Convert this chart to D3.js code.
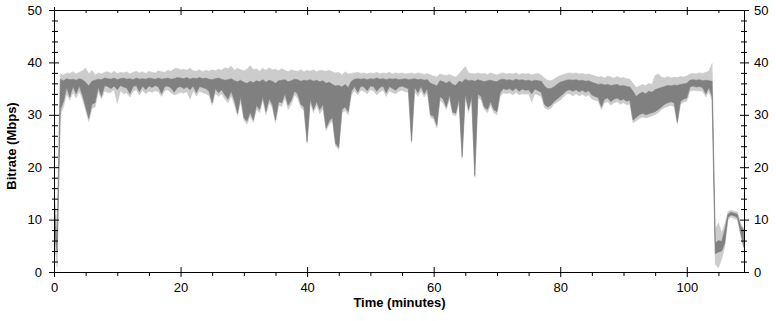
<!DOCTYPE html>
<html><head><meta charset="utf-8">
<script src="https://cdn.jsdelivr.net/npm/d3@7"></script>
<style>
body{margin:0;background:#fff}
svg{display:block}
text{font-family:"Liberation Sans",Arial,sans-serif;fill:#000}
</style>
</head><body>
<svg id="chart" width="776" height="321"></svg>
<script>
// ---- data, one sample every half minute, 0 .. 109 min ----
const sampleInterval = 0.5;
const darkHigh = [
13.0,6.0,36.8,36.5,36.9,36.7,36.8,36.6,36.9,36.7,
36.2,35.5,36.4,36.6,36.8,36.7,37.0,36.9,36.8,37.0,
36.7,36.9,37.0,36.8,36.9,36.7,37.0,36.8,36.9,36.8,
37.0,36.9,36.8,37.0,36.8,36.9,37.0,36.8,36.9,37.1,
37.0,36.9,37.1,36.8,37.0,36.9,37.1,36.9,37.0,36.8,
36.7,36.9,37.0,36.8,36.6,36.7,36.9,36.5,36.3,36.6,
36.2,36.0,36.4,36.1,36.5,36.3,36.7,36.2,36.6,36.4,
36.0,36.5,36.6,36.7,36.3,36.5,36.8,36.7,36.4,36.6,
36.5,36.7,36.4,36.6,36.3,36.5,36.0,36.2,35.8,35.5,
35.6,35.3,35.8,35.2,36.4,36.8,36.9,36.8,36.9,36.7,
36.9,36.8,37.0,36.8,36.9,36.7,36.9,36.8,36.9,36.7,
36.8,36.9,36.7,36.8,36.9,36.7,36.8,36.6,36.7,36.0,
35.8,35.5,36.5,36.3,36.0,36.4,35.8,35.6,36.4,36.2,
36.8,36.5,36.6,36.4,36.7,36.5,36.3,36.5,36.6,36.4,
36.3,36.7,36.8,36.6,36.7,36.5,36.8,36.6,36.7,36.5,
36.6,36.4,36.6,36.5,36.4,35.5,35.0,35.0,35.3,35.8,
36.2,36.4,36.6,36.7,36.6,36.7,36.5,36.6,36.4,36.5,
36.2,36.0,35.8,35.9,35.7,35.8,35.6,35.7,35.8,35.5,
35.6,35.4,35.3,34.5,33.5,34.0,34.3,34.0,34.5,34.3,
34.8,35.0,35.2,35.4,35.6,35.5,35.7,35.6,35.8,35.9,
36.0,36.6,36.7,36.6,36.7,36.5,36.6,36.5,36.4,5.5,
6.0,5.8,8.0,11.0,11.4,11.2,11.0,8.8,8.0
];
const darkLow = [
8.0,3.8,31.0,32.5,35.2,33.4,35.4,34.0,35.5,33.8,
31.5,29.3,32.0,32.3,35.3,33.5,35.6,35.4,35.0,35.5,
34.8,35.6,35.3,35.1,34.0,35.4,35.6,34.4,35.5,34.8,
35.5,35.2,35.6,35.3,34.0,35.4,35.5,35.1,34.3,35.2,
35.4,35.0,35.3,34.8,35.5,34.2,35.4,35.2,35.0,34.5,
32.3,35.0,34.2,34.8,33.8,33.0,34.5,32.8,30.3,33.5,
29.5,28.8,30.5,29.0,31.8,31.0,33.5,30.6,33.0,32.0,
29.0,32.5,32.3,34.0,31.8,32.8,34.5,34.0,32.0,31.5,
24.9,33.0,31.0,32.5,31.0,32.0,27.5,28.8,29.5,24.5,
23.8,31.0,31.5,30.6,34.5,35.4,34.3,35.5,35.3,34.6,
35.5,35.4,34.5,35.2,35.5,34.2,35.4,35.0,34.7,35.3,
35.5,35.2,35.0,25.0,35.3,34.2,35.4,34.0,35.0,30.0,
29.7,28.0,33.5,33.0,31.5,33.8,30.5,30.3,33.0,22.0,
34.0,31.0,33.5,18.4,34.0,33.5,31.5,31.0,32.5,31.0,
30.6,34.2,35.0,34.8,35.0,34.6,35.1,34.5,34.9,34.7,
34.8,34.0,34.9,34.6,34.3,32.0,31.5,31.8,32.5,33.0,
33.5,34.0,34.6,34.8,34.5,34.8,34.4,34.7,34.3,34.6,
33.8,33.5,33.3,31.5,33.0,33.2,32.5,33.0,33.2,32.8,
33.0,32.6,32.8,29.0,29.5,30.0,30.3,30.0,30.2,30.4,
30.6,31.0,31.5,32.0,32.3,32.5,32.3,28.6,32.6,33.0,
33.2,35.3,35.5,35.3,35.4,35.2,34.0,35.2,33.5,3.5,
3.8,4.0,5.5,10.4,10.9,10.7,10.4,7.6,4.8
];
const lightHigh = [
15.0,9.0,37.8,37.6,38.0,37.9,38.2,37.8,38.1,38.4,
38.9,37.8,38.5,37.6,38.0,37.8,38.1,38.2,37.9,38.3,
37.9,38.1,38.0,38.2,37.8,38.1,38.3,38.0,38.2,37.9,
38.3,38.1,38.0,38.4,38.2,38.1,38.5,38.3,38.8,38.9,
38.6,38.7,38.5,38.9,38.4,38.3,38.6,38.2,38.5,38.3,
38.6,38.4,38.7,38.5,39.0,38.8,39.3,38.5,38.9,38.6,
38.4,38.7,39.4,38.6,38.8,38.3,38.9,38.5,39.0,38.6,
38.7,38.4,38.8,38.5,38.2,38.6,38.4,38.3,38.6,38.2,
38.5,38.3,38.6,38.2,38.5,38.4,38.3,38.5,38.2,38.0,
38.1,37.6,38.2,37.8,37.9,38.0,38.1,37.9,38.0,37.8,
38.0,37.9,38.1,37.8,38.0,37.9,38.1,37.8,38.0,37.9,
38.0,37.8,37.9,38.0,37.8,38.0,37.9,37.7,37.9,37.6,
37.4,37.2,37.8,37.6,37.5,37.7,37.4,37.2,37.8,38.5,
39.2,38.0,37.9,37.8,38.0,37.8,37.9,37.7,38.0,37.8,
37.6,37.9,38.0,37.8,37.9,37.8,38.0,37.7,37.9,37.8,
37.9,37.6,37.8,37.9,37.6,37.0,36.6,36.5,36.8,37.2,
37.5,37.7,37.9,38.0,37.9,38.0,37.8,37.9,37.7,37.8,
37.6,37.4,37.2,37.3,37.0,37.4,37.2,37.0,37.3,37.0,
37.1,36.9,36.8,36.0,35.2,35.5,35.8,35.6,36.0,35.8,
37.5,37.8,37.2,37.0,37.3,37.0,37.2,37.1,37.3,37.2,
37.4,37.8,37.9,37.8,38.0,37.9,38.1,38.3,39.8,8.0,
9.4,7.5,9.0,11.5,11.8,11.6,11.5,9.2,8.4
];
const lightLow = [
6.0,1.0,30.0,31.5,34.0,32.8,34.3,33.2,34.5,33.0,
30.8,28.7,31.2,31.5,34.4,33.0,34.6,34.2,34.3,34.8,
32.2,34.6,34.0,34.2,33.4,34.5,34.8,33.8,34.7,34.0,
34.5,34.3,34.6,34.4,33.5,34.6,34.8,34.2,33.8,34.0,
34.3,34.1,34.4,33.0,34.6,33.6,34.5,34.2,34.0,33.7,
31.8,34.1,33.5,34.0,33.0,32.3,33.6,32.0,29.8,32.6,
29.0,28.2,29.8,28.5,31.0,30.4,32.8,30.0,32.3,31.4,
28.5,31.8,31.6,33.2,31.0,32.0,33.8,33.2,31.4,30.8,
24.5,32.3,30.4,31.8,30.2,31.2,27.0,28.2,28.8,24.0,
23.4,30.4,30.8,30.0,33.8,34.6,33.8,34.7,34.5,34.0,
34.8,34.6,33.8,34.4,34.7,33.5,34.6,34.2,34.0,34.5,
34.7,34.4,34.3,24.6,34.4,33.5,34.6,33.4,34.2,29.5,
29.2,27.5,32.8,32.2,31.0,33.0,30.0,29.8,32.3,21.6,
33.4,30.4,32.8,18.0,33.3,32.8,31.0,30.4,31.8,30.4,
30.0,33.5,34.2,34.0,34.2,33.8,34.3,33.8,34.0,33.9,
34.0,32.5,34.0,33.8,33.5,31.4,31.0,31.2,32.0,32.4,
32.8,33.4,34.0,34.0,33.6,34.0,33.6,33.9,33.5,33.8,
33.0,32.8,32.6,31.0,32.3,32.5,31.8,32.3,32.5,32.0,
32.3,31.9,32.0,28.5,28.8,29.3,29.6,29.4,29.6,29.8,
30.0,30.4,31.0,31.4,31.6,31.8,31.6,28.2,32.0,32.4,
32.6,34.5,34.7,34.6,34.6,34.5,33.4,34.4,32.8,1.5,
0.8,2.5,4.8,10.0,10.5,10.2,10.0,7.0,4.5
];
const xMajorTicks = [0, 20, 40, 60, 80, 100];
const xMinorTicks = [5, 10, 15, 25, 30, 35, 45, 50, 55, 65, 70, 75, 85, 90, 95, 105];
const yMajorTicks = [0, 10, 20, 30, 40, 50];
const yMinorTicks = [2, 4, 6, 8, 12, 14, 16, 18, 22, 24, 26, 28, 32, 34, 36, 38, 42, 44, 46, 48];
const xDomain = [0, 109.2];
const yDomain = [0, 50];
const xTitle = "Time (minutes)";
const yTitle = "Bitrate (Mbps)";

// ---- layout ----
const L = 54, R = 745, T = 10, B = 272;
const svg = d3.select("#chart");
const x = d3.scaleLinear().domain(xDomain).range([L, R]);
const y = d3.scaleLinear().domain(yDomain).range([B, T]);

const samples = darkHigh.map((d, i) => ({
  t: i * sampleInterval, dH: d, dL: darkLow[i], lH: lightHigh[i], lL: lightLow[i]
}));

svg.append("clipPath").attr("id", "clip")
  .append("rect").attr("x", L).attr("y", T).attr("width", R - L).attr("height", B - T);

const g = svg.append("g").attr("clip-path", "url(#clip)");
g.append("path").datum(samples)
  .attr("fill", "#cccccc").attr("stroke", "#cccccc").attr("stroke-width", 0.6)
  .attr("d", d3.area().x(d => x(d.t)).y0(d => y(d.lL)).y1(d => y(d.lH)));
g.append("path").datum(samples)
  .attr("fill", "#808080").attr("stroke", "#808080").attr("stroke-width", 0.6)
  .attr("d", d3.area().x(d => x(d.t)).y0(d => y(d.dL)).y1(d => y(d.dH)));

// ---- axes ----
const axisStyle = s => { s.select(".domain").remove(); s.selectAll("line").attr("stroke", "#000"); s.selectAll("text").style("font-size", "13px").attr("fill", "#000"); };

// left
const gl = svg.append("g").attr("transform", `translate(${L},0)`)
  .call(d3.axisLeft(y).tickValues(yMajorTicks).tickSize(0).tickPadding(12).tickFormat(d3.format("d")));
gl.selectAll(".tick").append("line").attr("x1", -5).attr("x2", 5);
const glm = svg.append("g").attr("transform", `translate(${L},0)`)
  .call(d3.axisLeft(y).tickValues(yMinorTicks).tickSize(0).tickFormat(""));
glm.selectAll(".tick").append("line").attr("x1", -2).attr("x2", 4);
[gl, glm].forEach(axisStyle);

// right
const gr = svg.append("g").attr("transform", `translate(${R},0)`)
  .call(d3.axisRight(y).tickValues(yMajorTicks).tickSize(0).tickPadding(9).tickFormat(d3.format("d")));
gr.selectAll(".tick").append("line").attr("x1", -5).attr("x2", 4);
const grm = svg.append("g").attr("transform", `translate(${R},0)`)
  .call(d3.axisRight(y).tickValues(yMinorTicks).tickSize(0).tickFormat(""));
grm.selectAll(".tick").append("line").attr("x1", -4).attr("x2", 2);
[gr, grm].forEach(axisStyle);

// bottom
const gb = svg.append("g").attr("transform", `translate(0,${B})`)
  .call(d3.axisBottom(x).tickValues(xMajorTicks).tickSize(0).tickPadding(11).tickFormat(d3.format("d")));
gb.selectAll(".tick").append("line").attr("y1", -5).attr("y2", 5);
const gbm = svg.append("g").attr("transform", `translate(0,${B})`)
  .call(d3.axisBottom(x).tickValues(xMinorTicks).tickSize(0).tickFormat(""));
gbm.selectAll(".tick").append("line").attr("y1", 0).attr("y2", 4);
[gb, gbm].forEach(axisStyle);

// top
const gt = svg.append("g").attr("transform", `translate(0,${T})`)
  .call(d3.axisTop(x).tickValues(xMajorTicks).tickSize(0).tickFormat(""));
gt.selectAll(".tick").append("line").attr("y1", -3).attr("y2", 5);
const gtm = svg.append("g").attr("transform", `translate(0,${T})`)
  .call(d3.axisTop(x).tickValues(xMinorTicks).tickSize(0).tickFormat(""));
gtm.selectAll(".tick").append("line").attr("y1", 0).attr("y2", 3);
[gt, gtm].forEach(axisStyle);

// frame
svg.append("rect").attr("x", L + 0.5).attr("y", T + 0.5).attr("width", R - L - 1).attr("height", B - T)
  .attr("fill", "none").attr("stroke", "#000").attr("stroke-width", 1);

// titles
svg.append("text").attr("x", (L + R) / 2).attr("y", 307).attr("text-anchor", "middle")
  .style("font-size", "13px").style("font-weight", "bold").text(xTitle);
svg.append("text").attr("transform", `translate(16,146) rotate(-90)`).attr("text-anchor", "middle")
  .style("font-size", "13px").style("font-weight", "bold").text(yTitle);
</script>
</body></html>
